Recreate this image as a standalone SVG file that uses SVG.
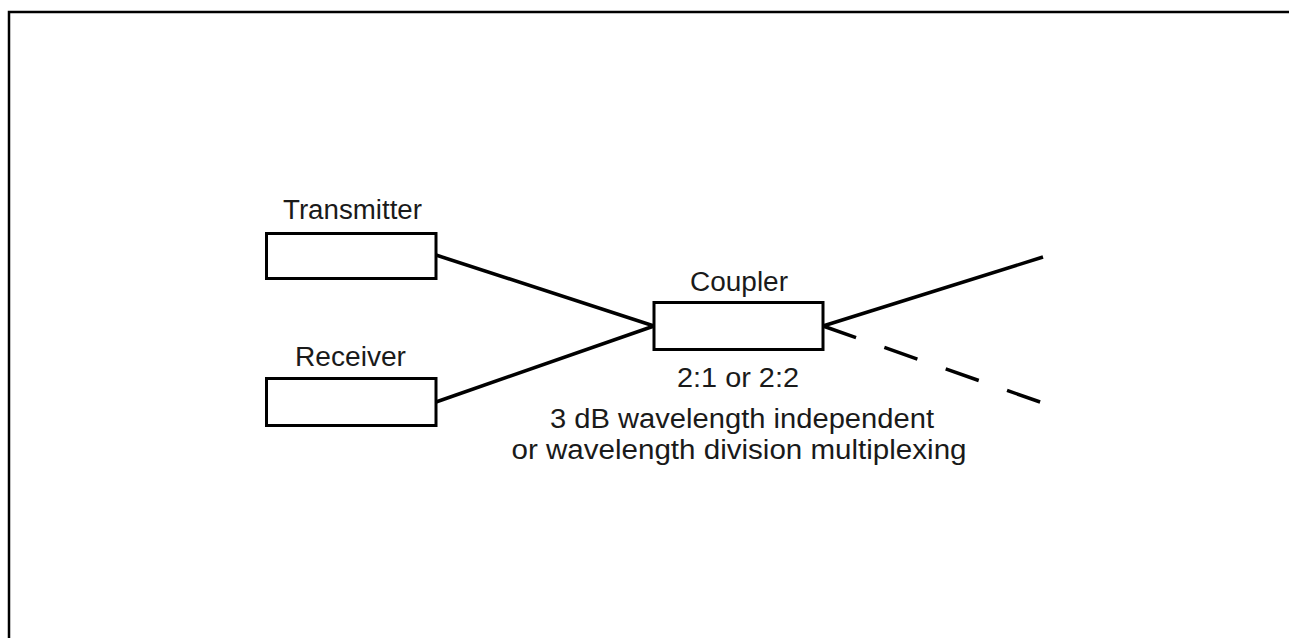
<svg xmlns="http://www.w3.org/2000/svg" width="1289" height="638" viewBox="0 0 1289 638">
<style>
.box{fill:#fff;stroke:#000;stroke-width:3}
.ln{fill:none;stroke:#000;stroke-width:3.5;stroke-linecap:butt}
.dash{stroke-dasharray:35 30}
.t{font-family:"Liberation Sans",Arial,sans-serif;font-size:27px;fill:#1a1a1a;text-anchor:middle}
</style>
<rect x="0" y="0" width="1289" height="638" fill="#fff"/>
<rect id="frame" x="9" y="12" width="1300" height="650" fill="none" stroke="#000" stroke-width="2.5"/>
<g id="connectors">
<line class="ln" x1="436" y1="255" x2="654" y2="326"/>
<line class="ln" x1="436" y1="402" x2="654" y2="326"/>
<line class="ln" x1="823" y1="326" x2="1043" y2="257"/>
<line class="ln dash" x1="823" y1="326" x2="1043" y2="403"/>
</g>
<g id="transmitter">
<rect class="box" x="266.5" y="233.5" width="169.5" height="45"/>
<text class="t" x="352.5" y="219" textLength="139" lengthAdjust="spacingAndGlyphs">Transmitter</text>
</g>
<g id="receiver">
<rect class="box" x="266.5" y="378.5" width="169.5" height="47"/>
<text class="t" x="350.5" y="366" textLength="111" lengthAdjust="spacingAndGlyphs">Receiver</text>
</g>
<g id="coupler">
<rect class="box" x="654" y="302.5" width="169" height="47"/>
<text class="t" x="739" y="291" textLength="98" lengthAdjust="spacingAndGlyphs">Coupler</text>
<text class="t" x="738" y="387" textLength="122" lengthAdjust="spacingAndGlyphs">2:1 or 2:2</text>
<text class="t" x="742" y="428" textLength="384" lengthAdjust="spacingAndGlyphs">3 dB wavelength independent</text>
<text class="t" x="739" y="459" textLength="455" lengthAdjust="spacingAndGlyphs">or wavelength division multiplexing</text>
</g>
</svg>
